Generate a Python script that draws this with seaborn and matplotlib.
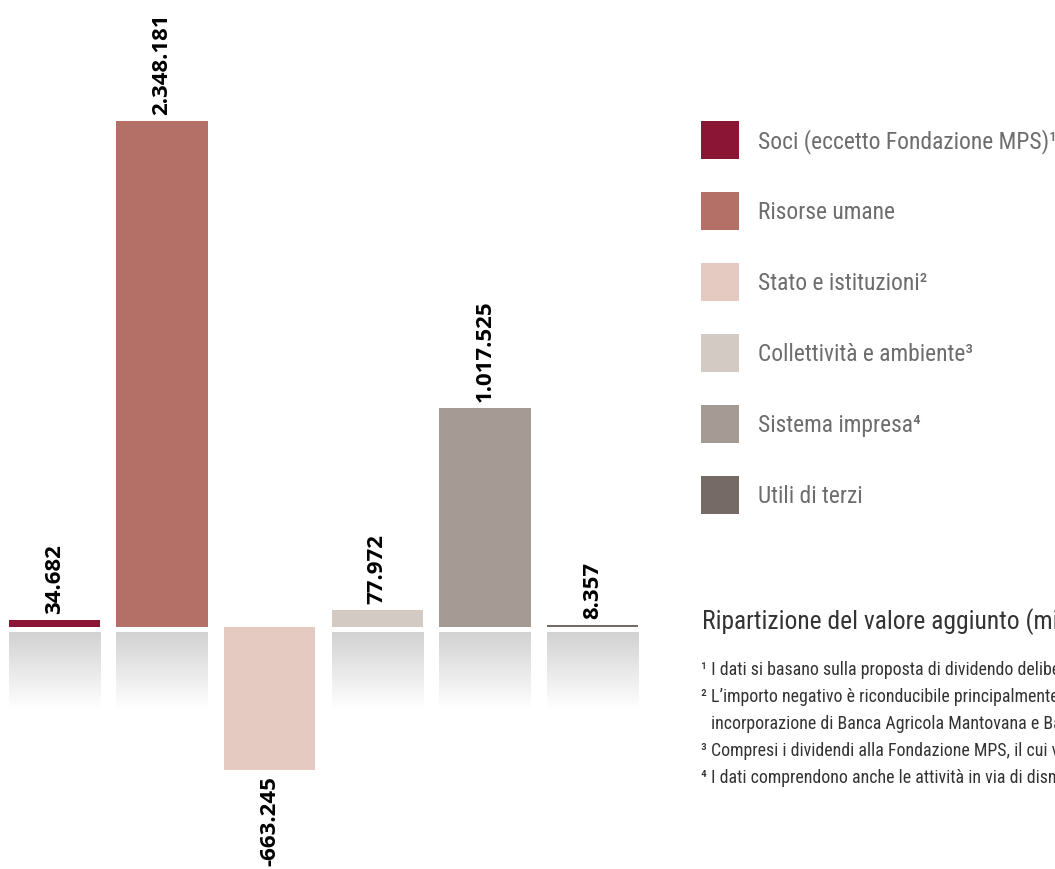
import numpy as np
import pandas as pd
import matplotlib
matplotlib.use("Agg")
import matplotlib.pyplot as plt
from matplotlib import font_manager as fm
from matplotlib.colors import LinearSegmentedColormap
from matplotlib.patches import Patch
import seaborn as sns

# dati (migliaia di euro)
categorie = ["Soci (eccetto Fondazione MPS)¹", "Risorse umane", "Stato e istituzioni²",
             "Collettività e ambiente³", "Sistema impresa⁴", "Utili di terzi"]
valori = [34682, 2348181, -663245, 77972, 1017525, 8357]
colori = ["#8b1535", "#b46f67", "#e5cac1", "#d3cac4", "#a59a94", "#756a65"]

titolo = "Ripartizione del valore aggiunto (migliaia di euro)"
note = [
    "¹ I dati si basano sulla proposta di dividendo deliberata dal Consiglio di Amministrazione",
    "² L’importo negativo è riconducibile principalmente agli effetti fiscali dell’operazione di",
    "incorporazione di Banca Agricola Mantovana e Banca Toscana",
    "³ Compresi i dividendi alla Fondazione MPS, il cui valore è incluso",
    "⁴ I dati comprendono anche le attività in via di dismissione",
]

sns.set_theme(style="white")

# font stretto se disponibile
nomi = {f.name for f in fm.fontManager.ttflist}
stretch = "normal"
if "Liberation Sans Narrow" in nomi:
    narrow = ["Liberation Sans Narrow", "DejaVu Sans"]
elif "Roboto Condensed" in nomi:
    narrow = ["Roboto Condensed", "DejaVu Sans"]
elif "Open Sans Condensed" in nomi:
    narrow = ["Open Sans Condensed", "DejaVu Sans"]
else:
    narrow = ["DejaVu Sans"]
    stretch = "condensed"

df = pd.DataFrame({"Categoria": categorie, "Valore": valori})

fig = plt.figure(figsize=(10.55, 8.7), dpi=100)
ax = fig.add_axes([0, 0, 645 / 1055, 1])

sns.barplot(data=df, x="Categoria", y="Valore", hue="Categoria", palette=colori,
            width=0.85, saturation=1, legend=False, ax=ax, zorder=2, linewidth=0)

ylim = (-1123000, 2914300)
xlim = (-0.507, 5.488)
ax.set_ylim(*ylim)
ax.set_xlim(*xlim)
px = (ylim[1] - ylim[0]) / 870  # unità per pixel

# riflesso sfumato sotto le barre positive
grad = np.linspace(0, 1, 100).reshape(-1, 1)
cmap_grad = LinearSegmentedColormap.from_list("g", ["#d2d2d2", "#ffffff"])
for p, v in zip(ax.patches, valori):
    x0 = p.get_x()
    x1 = x0 + p.get_width()
    xc = x0 + p.get_width() / 2
    etichetta = f"{v:,}".replace(",", ".")
    if v > 0:
        ax.imshow(grad, extent=[x0, x1, -82 * px, -5 * px], aspect="auto",
                  cmap=cmap_grad, zorder=1, interpolation="bilinear")
        ax.text(xc, v + 7 * px, etichetta, rotation=90, ha="center", va="bottom",
                fontsize=16, fontweight="bold", family="Open Sans", color="black")
    else:
        ax.text(xc, v - 5 * px, etichetta, rotation=90, ha="center", va="top",
                fontsize=16, fontweight="bold", family="Open Sans", color="black")

ax.set_ylim(*ylim)
ax.set_xlim(*xlim)
ax.axis("off")

renderer = fig.canvas.get_renderer()


def adatta(testo, larghezza, size=15):
    # dimensione del font per avere la larghezza voluta in pixel
    t = fig.text(0, 0, testo, family=narrow, fontstretch=stretch, fontsize=size)
    w = t.get_window_extent(renderer).width
    t.remove()
    return size * larghezza / w


size_leg = adatta("Risorse umane", 138)
size_tit = adatta("Ripartizione del valore aggiunto", 318)
size_note = adatta("incorporazione di Banca Agricola Mantovana e", 326, 10)

# legenda
fs_px = size_leg * 100 / 72
h_hand = (38 / fs_px - 0.245) / 0.65
handles = [Patch(facecolor=c, edgecolor="none") for c in colori]
leg = fig.legend(handles, categorie, loc="upper left",
                 bbox_to_anchor=(701 / 1055, 1 - 122 / 870), frameon=False,
                 borderpad=0, borderaxespad=0, handlelength=38 / fs_px, handleheight=h_hand,
                 handletextpad=19 / fs_px, labelspacing=33 / fs_px,
                 prop={"family": narrow, "size": size_leg, "stretch": stretch})
for t in leg.get_texts():
    t.set_color("#6d6d6d")

# titolo e note
fig.text(702 / 1055, 1 - 622 / 870, titolo, ha="left", va="center",
         fontsize=size_tit, family=narrow, fontstretch=stretch, color="#333333")
y_note = [670, 697, 724, 751, 778]
x_note = [701, 701, 711, 701, 701]
for x, y, n in zip(x_note, y_note, note):
    fig.text(x / 1055, 1 - y / 870, n, ha="left", va="center",
             fontsize=size_note, family=narrow, fontstretch=stretch, color="#333333")

plt.savefig("out.png", dpi=100)
